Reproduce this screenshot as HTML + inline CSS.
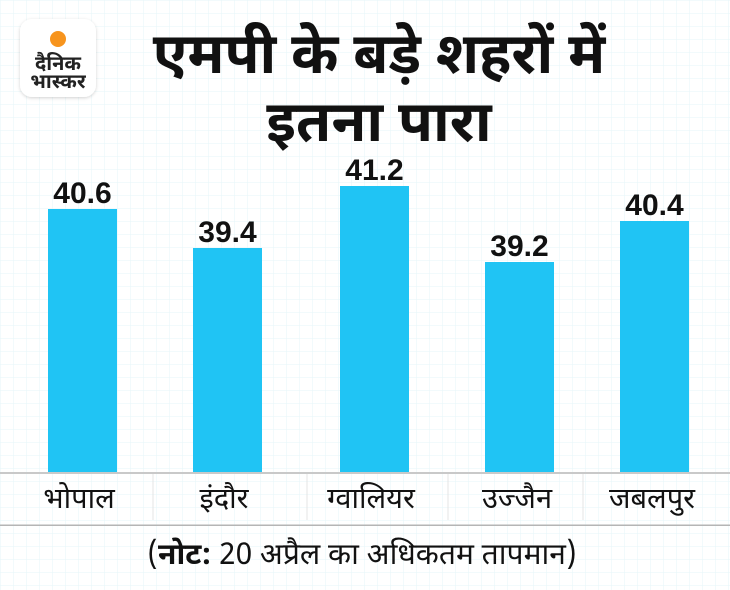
<!DOCTYPE html>
<html>
<head>
<meta charset="utf-8">
<style>
  html,body{margin:0;padding:0;}
  body{width:730px;height:590px;overflow:hidden;background:#ffffff;}
  svg{display:block;}
  .dev{font-family:"Noto Sans Devanagari","Lohit Devanagari","Mukta","FreeSans","Liberation Sans",sans-serif;}
  .num{font-family:"Liberation Sans",sans-serif;font-weight:bold;}
</style>
</head>
<body>
<svg width="730" height="590" viewBox="0 0 730 590" xmlns="http://www.w3.org/2000/svg">
  <defs>
    <pattern id="grid" width="13" height="13" patternUnits="userSpaceOnUse">
      <path d="M13 0 L0 0 0 13" fill="none" stroke="#e5f5f8" stroke-width="1"/>
    </pattern>
    <filter id="sh" x="-20%" y="-20%" width="140%" height="140%">
      <feDropShadow dx="0" dy="1" stdDeviation="1.5" flood-color="#000" flood-opacity="0.18"/>
    </filter>
  </defs>
  <rect width="730" height="590" fill="#ffffff"/>
  <rect width="730" height="590" fill="url(#grid)"/>

  <!-- Logo -->
  <rect x="20" y="19" width="76" height="78" rx="12" fill="#ffffff" filter="url(#sh)"/>
  <circle cx="58" cy="39" r="8" fill="#f7941d"/>
  <text x="58" y="70" text-anchor="middle" class="dev" font-size="20" font-weight="bold" fill="#222">दैनिक</text>
  <text x="58" y="88" text-anchor="middle" class="dev" font-size="20" font-weight="bold" fill="#222">भास्कर</text>

  <!-- Title -->
  <text x="379" y="73" text-anchor="middle" class="dev" font-size="57" font-weight="bold" fill="#111">एमपी के बड़े शहरों में</text>
  <text x="379" y="141" text-anchor="middle" class="dev" font-size="57" font-weight="bold" fill="#111">इतना पारा</text>

  <!-- Bars -->
  <rect x="48" y="209" width="69" height="264" fill="#20c4f4"/>
  <rect x="193" y="248" width="69" height="225" fill="#20c4f4"/>
  <rect x="340" y="186" width="69" height="287" fill="#20c4f4"/>
  <rect x="485" y="262" width="69" height="211" fill="#20c4f4"/>
  <rect x="620" y="221" width="69" height="252" fill="#20c4f4"/>

  <!-- Value labels -->
  <text x="82.5" y="203" text-anchor="middle" class="num" font-size="30" fill="#111">40.6</text>
  <text x="227.5" y="242" text-anchor="middle" class="num" font-size="30" fill="#111">39.4</text>
  <text x="374.5" y="180" text-anchor="middle" class="num" font-size="30" fill="#111">41.2</text>
  <text x="519.5" y="256" text-anchor="middle" class="num" font-size="30" fill="#111">39.2</text>
  <text x="654.5" y="215" text-anchor="middle" class="num" font-size="30" fill="#111">40.4</text>

  <!-- Axis lines -->
  <rect x="0" y="472" width="730" height="2" fill="#c9c9c9"/>
  <rect x="0" y="524.5" width="730" height="1.5" fill="#b5b5b5"/>
  <rect x="152.5" y="474" width="1" height="46" fill="#e4e4e4"/>
  <rect x="306.5" y="474" width="1" height="46" fill="#e4e4e4"/>
  <rect x="447.5" y="474" width="1" height="46" fill="#e4e4e4"/>
  <rect x="582.5" y="474" width="1" height="46" fill="#e4e4e4"/>

  <!-- Category labels -->
  <text x="79" y="508" text-anchor="middle" class="dev" font-size="29" fill="#111">भोपाल</text>
  <text x="224" y="508" text-anchor="middle" class="dev" font-size="29" fill="#111">इंदौर</text>
  <text x="371" y="508" text-anchor="middle" class="dev" font-size="29" fill="#111">ग्वालियर</text>
  <text x="517" y="508" text-anchor="middle" class="dev" font-size="29" fill="#111">उज्जैन</text>
  <text x="652" y="508" text-anchor="middle" class="dev" font-size="29" fill="#111">जबलपुर</text>

  <!-- Footnote -->
  <text x="362" y="564" text-anchor="middle" class="dev" font-size="30" fill="#111">(<tspan font-weight="bold">नोट:</tspan> 20 अप्रैल का अधिकतम तापमान)</text>
</svg>
</body>
</html>
